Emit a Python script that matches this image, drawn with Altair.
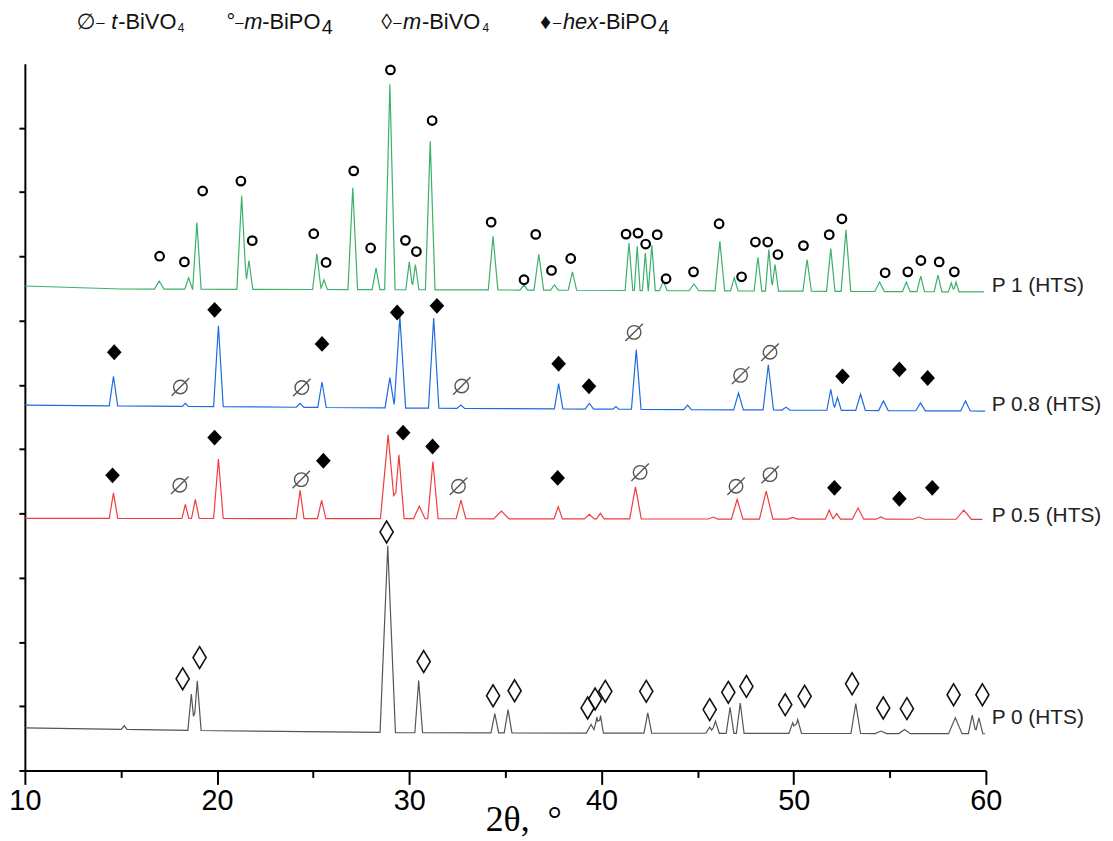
import altair as alt
import numpy as np
import pandas as pd

# ---------------- data ----------------
# 2theta in degrees, intensity in arbitrary units (curves are stacked with offsets)

# P 1 (HTS) -- green
P1_BASE_X = [10, 15, 35, 60]
P1_BASE_Y = [488, 485, 484, 482]
P1_POS = [16.99, 18.52, 18.95, 21.28, 21.66, 25.19, 25.56, 27.06, 28.27, 28.99,
          30.00, 30.32, 31.09, 34.36, 35.96, 36.74, 37.55, 38.49, 41.43, 41.86,
          42.28, 42.62, 43.22, 44.81, 46.16, 46.91, 48.14, 48.71, 49.03, 50.70,
          51.93, 52.72, 54.47, 55.86, 56.61, 57.51, 58.20, 58.45]
P1_TOP = [493, 496.3, 552, 579, 513.7, 520.3, 494.3, 587, 506.3, 691.3,
          512.3, 509.7, 633.7, 538, 489, 520, 489, 502.3, 531.3, 528,
          521.3, 529, 493, 490, 533, 496.3, 517, 524.7, 509.7, 514.7,
          525.7, 544.7, 492, 492, 498, 499, 491, 492]
P1_HW = [0.25, 0.2, 0.22, 0.25, 0.2, 0.22, 0.18, 0.25, 0.2, 0.27,
         0.18, 0.18, 0.25, 0.25, 0.2, 0.25, 0.2, 0.22, 0.2, 0.15,
         0.15, 0.18, 0.2, 0.25, 0.25, 0.2, 0.2, 0.18, 0.18, 0.22,
         0.22, 0.25, 0.25, 0.2, 0.2, 0.2, 0.15, 0.15]
P1_END = 59.9

# P 0.8 (HTS) -- blue
P08_BASE_X = [10, 30, 60]
P08_BASE_Y = [368, 365, 362]
P08_POS = [14.61, 18.35, 20.07, 24.32, 25.46, 28.99, 29.51, 31.27, 32.68, 37.77,
           39.37, 40.75, 41.81, 44.48, 47.13, 48.68, 49.60, 51.93, 52.28, 53.48,
           54.67, 56.60, 58.94]
P08_TOP = [397, 369.7, 448, 369.7, 391.3, 395.7, 457, 455.7, 368, 389.7,
           369.7, 366.5, 423.7, 368, 380.3, 408.7, 366, 384, 375.7, 379,
           372.3, 370.3, 372.3]
P08_HW = [0.22, 0.15, 0.25, 0.2, 0.22, 0.25, 0.3, 0.27, 0.2, 0.22,
          0.22, 0.15, 0.25, 0.2, 0.25, 0.27, 0.2, 0.2, 0.2, 0.25,
          0.25, 0.25, 0.25]
P08_END = 59.96

# P 0.5 (HTS) -- red
P05_BASE_X = [10, 60]
P05_BASE_Y = [254, 253]
P05_POS = [14.61, 18.35, 18.87, 20.07, 24.32, 25.44, 28.90, 29.46, 30.52, 31.23,
           32.69, 34.79, 37.75, 39.37, 39.94, 41.77, 45.81, 47.06, 48.57, 49.95,
           51.85, 52.24, 53.35, 54.54, 56.51, 58.85]
P05_TOP = [279.7, 268, 273, 313.7, 282.3, 272, 338, 318, 266.3, 311.3,
           272.3, 261.3, 265.7, 258, 259, 285.7, 255.3, 273, 281.3, 255,
           262.3, 258.7, 264.3, 255.3, 255.3, 262.3]
P05_HW = [0.22, 0.18, 0.2, 0.25, 0.2, 0.22, 0.4, 0.27, 0.3, 0.27,
          0.25, 0.4, 0.22, 0.25, 0.2, 0.3, 0.25, 0.3, 0.35, 0.25,
          0.2, 0.2, 0.3, 0.25, 0.3, 0.4]
P05_END = 59.82

# P 0 (HTS) -- grey
P0_BASE_X = [10, 20, 30, 60]
P0_BASE_Y = [43, 40, 38, 37]
P0_POS = [15.17, 18.66, 18.97, 28.88, 30.49, 34.45, 35.14, 39.46, 39.76, 39.95,
          42.41, 45.63, 45.93, 46.69, 47.22, 49.95, 50.21, 53.23, 54.54, 55.77,
          58.41, 59.29, 59.64]
P0_TOP = [45, 77, 90.3, 226.3, 90.7, 57.3, 61.3, 46.3, 54, 55.3,
          58, 43.7, 49.7, 63.7, 68, 48, 51.3, 67.3, 39.7, 41.3,
          53, 55.7, 53]
P0_HW = [0.15, 0.18, 0.2, 0.4, 0.2, 0.2, 0.2, 0.25, 0.15, 0.15,
         0.2, 0.2, 0.2, 0.2, 0.2, 0.2, 0.2, 0.25, 0.3, 0.3,
         0.35, 0.2, 0.2]
P0_END = 59.96

# phase markers
MBPO_X = [17.01, 18.30, 19.25, 21.24, 21.83, 25.03, 25.67, 27.11, 27.99, 29.02,
          29.80, 30.37, 31.19, 34.26, 35.97, 36.58, 37.40, 38.40, 41.28, 41.90,
          42.30, 42.90, 43.36, 44.79, 46.12, 47.29, 48.01, 48.65, 49.18, 50.51,
          51.85, 52.51, 54.76, 55.94, 56.62, 57.57, 58.36]
MBPO_Y = [518, 512.3, 583.7, 593.7, 533.7, 540.7, 511.7, 604, 526.3, 705.7,
          534, 522.7, 654.7, 552.3, 494.3, 540, 503.7, 515.7, 540.3, 541.3,
          530.3, 539.7, 495.3, 502.3, 550.7, 497.3, 532.3, 532.3, 519.7, 528.7,
          539.7, 555.7, 501.3, 502.3, 513.7, 512.3, 502.3]

HEX_X = [14.65, 19.87, 25.46, 29.37, 31.44, 37.77, 39.35, 52.54, 55.50, 56.97,
         14.56, 19.87, 25.53, 29.68, 31.21, 37.72, 52.12, 55.50, 57.21]
HEX_Y = [421.3, 464, 429.7, 461.3, 468, 409.7, 387, 397, 404, 395.3,
         297.3, 335.3, 312, 340.3, 326.3, 294.7, 284.7, 273.7, 284.7]

TBV_X = [18.09, 24.41, 32.73, 41.70, 47.24, 48.77,
         18.06, 24.38, 32.56, 42.01, 47.00, 48.77]
TBV_Y = [386.3, 385.7, 387.3, 441.3, 398, 421.3,
         287.3, 293, 286.3, 300.3, 286.3, 298]

MBV_X = [18.21, 19.09, 28.82, 30.75, 34.36, 35.48, 39.28, 39.67, 40.20, 42.33,
         45.63, 46.60, 47.54, 49.56, 50.57, 53.04, 54.66, 55.89, 58.32, 59.82]
MBV_Y = [92.3, 113.7, 240.3, 109.7, 75.3, 80.3, 63, 72, 79.7, 79.7,
         61.3, 78.7, 84.7, 66.3, 74.7, 87.3, 63, 62.3, 76.3, 76.3]

SERIES = ["P 1 (HTS)", "P 0.8 (HTS)", "P 0.5 (HTS)", "P 0 (HTS)"]
SERIES_COLORS = ["#3cb06a", "#1e6be0", "#f03c3c", "#555555"]
LABEL_X = [60.3, 60.3, 60.3, 60.3]
LABEL_Y = [488, 368, 256, 53]

# legend fragments: text, left edge (page px), style
LEG_TEXT = ["∅", "–", "t", "-BiVO", "4",
            "°", "–", "m", "-BiPO", "4",
            "◊", "–", "m", "-BiVO", "4",
            "♦", "–", "hex", "-BiPO", "4"]
LEG_STYLE = ["n", "d", "i", "n", "s",
             "n", "d", "i", "n", "b",
             "n", "d", "i", "n", "s",
             "n", "d", "i", "n", "b"]
LEG_PX = [77, 97, 112, 119, 179,
          228, 237, 246, 264, 324,
          384, 396, 406, 425, 486,
          544, 557, 567, 603, 663]

# ---------------- build ----------------
W, H = 968, 712
PAD_L, PAD_T = 17, 53
Y_MAX = 712
Y_STEP = Y_MAX / 22


def profile(base_x, base_y, pos, top, hw, x_end):
    xs = {10.0, float(x_end)}
    xs.update(float(b) for b in base_x if 10 <= b <= x_end)
    for p, w in zip(pos, hw):
        xs.update((p - w, p, p + w))
    xs = np.array(sorted(v for v in xs if 10 <= v <= x_end))
    ys = np.interp(xs, base_x, base_y)
    for p, t, w in zip(pos, top, hw):
        h = t - np.interp(p, base_x, base_y)
        ys = ys + h * np.clip(1 - np.abs(xs - p) / w, 0, None)
    return xs, ys


traces = [
    (SERIES[0], P1_BASE_X, P1_BASE_Y, P1_POS, P1_TOP, P1_HW, P1_END),
    (SERIES[1], P08_BASE_X, P08_BASE_Y, P08_POS, P08_TOP, P08_HW, P08_END),
    (SERIES[2], P05_BASE_X, P05_BASE_Y, P05_POS, P05_TOP, P05_HW, P05_END),
    (SERIES[3], P0_BASE_X, P0_BASE_Y, P0_POS, P0_TOP, P0_HW, P0_END),
]
rows = []
for name, bx, by, pos, top, hw, end in traces:
    xs, ys = profile(bx, by, pos, top, hw, end)
    for i, (a, b) in enumerate(zip(xs, ys)):
        rows.append({"series": name, "i": i, "x": float(a), "y": float(b)})
lines_df = pd.DataFrame(rows)

x_axis = alt.Axis(
    values=list(range(10, 61, 5)),
    labelExpr="datum.value % 10 === 0 ? datum.label : ''",
    tickSize={"condition": {"test": "datum.value % 10 === 0", "value": 14}, "value": 7},
    labelFont="Liberation Sans Narrow, Arial Narrow, Liberation Sans, Arial",
    labelFontSize=29, labelColor="black", labelPadding=2,
    labelFlush=False, labelOverlap=False, grid=False,
    title="2θ,\u00a0\u00a0°", titleFont="Liberation Serif, Times New Roman, serif",
    titleFontSize=36, titleFontWeight="normal", titleColor="black",
    titleX=502, titleY=60, titleAlign="center", titleBaseline="alphabetic",
)
y_axis = alt.Axis(
    values=[i * Y_STEP for i in range(23)],
    labels=False, grid=False, title=None,
    tickSize={"condition": {"test": f"round(datum.value / {Y_STEP}) % 2 === 1", "value": 13},
              "value": 6},
)

x_enc = alt.X("x:Q", scale=alt.Scale(domain=[10, 60], nice=False, zero=False), axis=x_axis)
y_enc = alt.Y("y:Q", scale=alt.Scale(domain=[0, Y_MAX], nice=False, zero=False), axis=y_axis)

lines = alt.Chart(lines_df).mark_line(strokeWidth=1.2).encode(
    x=x_enc, y=y_enc,
    color=alt.Color("series:N", scale=alt.Scale(domain=SERIES, range=SERIES_COLORS), legend=None),
    order="i:Q",
)

circles = alt.Chart(pd.DataFrame({"x": MBPO_X, "y": MBPO_Y})).mark_point(
    shape="circle", size=75, filled=False, stroke="black", strokeWidth=2.2, opacity=1
).encode(x="x:Q", y="y:Q")

hexd = alt.Chart(pd.DataFrame({"x": HEX_X, "y": HEX_Y})).mark_point(
    shape="M0,-1L0.92,0L0,1L-0.92,0Z", size=256, filled=True, fill="black",
    strokeWidth=0, opacity=1
).encode(x="x:Q", y="y:Q")

tbv = alt.Chart(pd.DataFrame({"x": TBV_X, "y": TBV_Y})).mark_point(
    shape="M-0.62,0A0.62,0.62 0 1,1 0.62,0A0.62,0.62 0 1,1 -0.62,0ZM-0.8,0.8L0.8,-0.8",
    size=484, filled=False, stroke="#555555", strokeWidth=1.4, opacity=1
).encode(x="x:Q", y="y:Q")

mbv = alt.Chart(pd.DataFrame({"x": MBV_X, "y": MBV_Y})).mark_point(
    shape="M0,-1L0.6,0L0,1L-0.6,0Z", size=484, filled=False, stroke="#111111",
    strokeWidth=1.6, opacity=1
).encode(x="x:Q", y="y:Q")

labels = alt.Chart(pd.DataFrame({"x": LABEL_X, "y": LABEL_Y, "label": SERIES})).mark_text(
    align="left", baseline="middle", font="Liberation Sans, Arial, sans-serif",
    fontSize=21, color="#222222"
).encode(x="x:Q", y="y:Q", text="label:N")

STYLE = {
    "n": dict(fontSize=22, fontStyle="normal", base=26),
    "i": dict(fontSize=22, fontStyle="italic", base=26),
    "d": dict(fontSize=15, fontStyle="normal", base=24),
    "s": dict(fontSize=12, fontStyle="normal", base=29.5),
    "b": dict(fontSize=20, fontStyle="normal", base=31.5),
}
legend_layers = []
one = pd.DataFrame({"a": [0]})
for t, s, px in zip(LEG_TEXT, LEG_STYLE, LEG_PX):
    st = STYLE[s]
    legend_layers.append(
        alt.Chart(one).mark_text(
            align="left", baseline="alphabetic", font="Liberation Sans, Arial, DejaVu Sans, sans-serif",
            fontSize=st["fontSize"], fontStyle=st["fontStyle"], color="#111111"
        ).encode(x=alt.value(px - 8 - PAD_L), y=alt.value(st["base"] - 8 - PAD_T), text=alt.value(t))
    )

chart = alt.layer(lines, circles, hexd, tbv, mbv, labels, *legend_layers).properties(
    width=W, height=H,
    autosize=alt.AutoSizeParams(type="none"),
    padding={"left": PAD_L, "top": PAD_T, "right": 120, "bottom": 68},
).configure_view(stroke=None).configure_axis(
    domainColor="black", tickColor="black", domainWidth=2, tickWidth=2
)

chart.save("out.html", embed_options={"renderer": "svg", "actions": False})
